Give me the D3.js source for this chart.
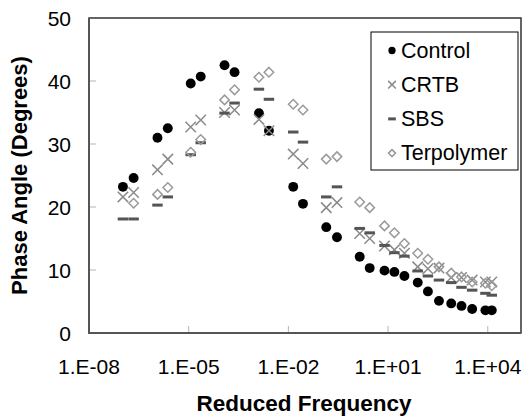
<!DOCTYPE html>
<html>
<head>
<meta charset="utf-8">
<script src="https://cdn.jsdelivr.net/npm/d3@7"></script>
<style>
  html, body { margin: 0; padding: 0; background: #fff; }
  svg { display: block; font-family: "Liberation Sans", Arial, sans-serif; }
</style>
</head>
<body>
<div id="chart"></div>
<script>
// reduced frequency, shared by all four binders
const freq = [1.05e-7, 2.2e-7, 1.15e-6, 2.35e-6, 1.15e-5, 2.3e-5, 1.2e-4, 2.4e-4,
  1.3e-3, 2.6e-3, 1.4e-2, 2.75e-2, 0.138, 0.29, 1.4, 2.8, 7.8, 15.5, 31, 78, 158,
  340, 795, 1620, 3390, 8500, 13200];

const control = [23.2, 24.6, 31.0, 32.5, 39.6, 40.7, 42.5, 41.4, 34.9, 32.1, 23.2,
  20.5, 16.8, 15.2, 12.1, 10.3, 9.9, 9.7, 9.05, 8.0, 6.6, 5.1, 4.7, 4.3, 3.8, 3.6, 3.6];
const crtb = [21.6, 22.3, 25.9, 27.6, 32.7, 33.8, 35.0, 35.4, 33.9, 32.1, 28.4,
  26.9, 19.9, 20.7, 15.8, 15.0, 13.8, 13.2, 12.65, 10.5, 10.2, 10.3, 8.8, 8.8, 8.4, 8.1, 8.1];
const sbs = [18.1, 18.1, 20.3, 21.6, 28.3, 30.2, 34.9, 36.5, 38.7, 37.1, 31.9,
  30.3, 21.6, 23.2, 16.6, 15.9, 13.9, 12.75, 12.2, 9.85, 9.05, 8.4, 8.0, 7.25, 6.8, 6.3, 6.0];
const terpolymer = [null, 20.6, 22.0, 23.1, 28.7, 30.7, 37.0, 38.6, 40.6, 41.4, 36.3,
  35.4, 27.6, 28.0, 20.8, 19.9, 17.0, 15.9, 14.2, 12.65, 11.7, 10.5, 9.5, 8.9, 8.1, 7.9, 7.5];

const seriesNames = ["Control", "CRTB", "SBS", "Terpolymer"];
const xTicks = [1e-8, 1e-5, 1e-2, 1e1, 1e4];
const yTicks = [0, 10, 20, 30, 40, 50];

const W = 532, H = 417;
const margin = { top: 18, right: 11, bottom: 84, left: 89 };
const iw = W - margin.left - margin.right;
const ih = H - margin.top - margin.bottom;

const svg = d3.select("#chart").append("svg")
  .attr("width", W).attr("height", H);

const g = svg.append("g").attr("transform", `translate(${margin.left},${margin.top})`);

const x = d3.scaleLog().domain([1e-8, 1e5]).range([0, iw]);
const y = d3.scaleLinear().domain([0, 50]).range([ih, 0]);

const fmtExp = v => {
  const e = Math.round(Math.log10(v));
  return "1.E" + (e < 0 ? "-" : "+") + String(Math.abs(e)).padStart(2, "0");
};

// inner tick marks
g.selectAll("line.ytick").data(yTicks.slice(1, -1)).enter().append("line")
  .attr("x1", 0).attr("x2", 7)
  .attr("y1", d => y(d)).attr("y2", d => y(d))
  .attr("stroke", "#b5b5b5").attr("stroke-width", 1);
g.selectAll("line.xtick").data(xTicks.slice(1)).enter().append("line")
  .attr("x1", d => x(d)).attr("x2", d => x(d))
  .attr("y1", ih).attr("y2", ih - 7)
  .attr("stroke", "#b5b5b5").attr("stroke-width", 1);

// plot border
g.append("rect").attr("x", 0).attr("y", 0).attr("width", iw).attr("height", ih)
  .attr("fill", "none").attr("stroke", "#333").attr("stroke-width", 1.5);
g.append("path").attr("d", `M0,0V${ih}H${iw}`)
  .attr("fill", "none").attr("stroke", "#555").attr("stroke-width", 2);

// tick labels
g.selectAll("text.ylab").data(yTicks).enter().append("text")
  .attr("x", -18).attr("y", d => y(d)).attr("dy", "0.36em")
  .attr("text-anchor", "end").attr("font-size", 21).attr("fill", "#000")
  .text(d => d);
g.selectAll("text.xlab").data(xTicks).enter().append("text")
  .attr("x", d => x(d)).attr("y", ih + 41)
  .attr("text-anchor", "middle").attr("font-size", 21).attr("fill", "#000")
  .text(fmtExp);

// axis titles
svg.append("text")
  .attr("x", margin.left + iw / 2 - 1).attr("y", 411)
  .attr("text-anchor", "middle").attr("font-size", 22.5).attr("font-weight", "bold")
  .text("Reduced Frequency");
svg.append("text")
  .attr("transform", `translate(27,${margin.top + ih / 2}) rotate(-90)`)
  .attr("text-anchor", "middle").attr("font-size", 22).attr("font-weight", "bold")
  .text("Phase Angle (Degrees)");

// marker drawers
function drawMarker(sel, type, s) {
  if (type === "Control") {
    sel.append("circle").attr("r", s * 0.52).attr("fill", "#000");
  } else if (type === "CRTB") {
    const h = s * 0.55;
    sel.append("path").attr("d", `M${-h},${-h}L${h},${h}M${-h},${h}L${h},${-h}`)
      .attr("stroke", "#8a8a8a").attr("stroke-width", 1.5).attr("fill", "none");
  } else if (type === "SBS") {
    sel.append("rect").attr("x", -s * 0.55).attr("y", -1.5)
      .attr("width", s * 1.1).attr("height", 3).attr("fill", "#555");
  } else {
    const h = s * 0.5;
    sel.append("path").attr("d", `M0,${-h}L${h},0L0,${h}L${-h},0Z`)
      .attr("stroke", "#9a9a9a").attr("stroke-width", 1.5).attr("fill", "none");
  }
}

const seriesVals = [control, crtb, sbs, terpolymer];
seriesNames.forEach((name, si) => {
  const pts = freq.map((f, i) => ({ f, v: seriesVals[si][i] })).filter(d => d.v != null);
  g.append("g").selectAll("g").data(pts).enter().append("g")
    .attr("transform", d => `translate(${x(d.f)},${y(d.v)})`)
    .each(function() { drawMarker(d3.select(this), name, 9.5); });
});

// legend
const lg = svg.append("g").attr("transform", "translate(371,32)");
lg.append("rect").attr("width", 147).attr("height", 138)
  .attr("fill", "#fff").attr("stroke", "#000").attr("stroke-width", 1);
seriesNames.forEach((name, i) => {
  const by = 25.5 + i * 34.2;
  const m = lg.append("g").attr("transform", `translate(21,${by - 7})`);
  drawMarker(m, name, 7);
  lg.append("text").attr("x", 30).attr("y", by)
    .attr("font-size", 21.5).attr("fill", "#000").text(name);
});
</script>
</body>
</html>
